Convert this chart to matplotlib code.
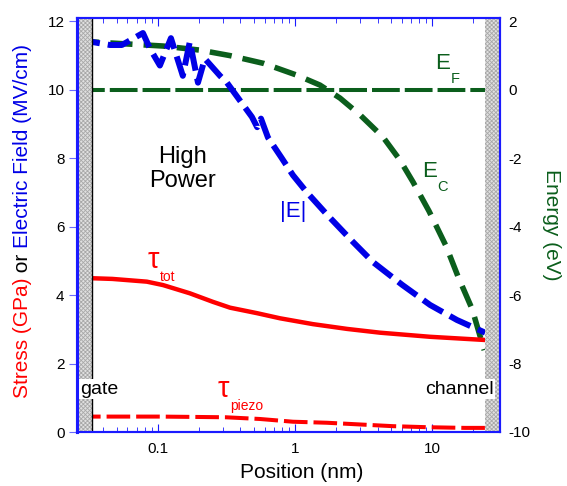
import numpy as np
import matplotlib
matplotlib.use("Agg")
import matplotlib.pyplot as plt

plt.rcParams["font.family"] = ["Liberation Sans", "DejaVu Sans"]
plt.rcParams["lines.scale_dashes"] = False
plt.rcParams["axes.unicode_minus"] = False

# --- data (position in nm) ---
ef_x = [0.0257, 24.4]
ef_y = [0.0, 0.0]  # eV

ec_x = [0.0257, 0.033, 0.109, 0.203, 0.336, 0.594, 1.03, 1.52, 2.13, 3.0, 4.39, 5.83, 7.26,
        9.5, 12.65, 15.5, 19.6, 24.0]
ec_y = [1.40, 1.39, 1.27, 1.15, 0.99, 0.76, 0.42, 0.13, -0.25, -0.75, -1.39, -2.06, -2.70,
        -3.55, -4.57, -5.47, -6.41, -7.61]  # eV

efield_x = [0.0257, 0.033, 0.0447, 0.0546, 0.0778, 0.0874, 0.1034, 0.1245, 0.152, 0.171, 0.196,
            0.220, 0.284, 0.319, 0.410, 0.485, 0.53, 0.565, 0.635, 0.80, 0.966, 1.22, 1.71,
            2.65, 3.71, 6.04, 9.67, 15.2, 24.4]
efield_y = [11.40, 11.39, 11.3, 11.3, 11.65, 11.2, 10.7, 11.5, 10.4, 11.4, 10.2,
            10.9, 10.4, 10.2, 9.6, 9.2, 8.9, 9.15, 8.6, 8.0, 7.5, 7.0, 6.35,
            5.55, 4.96, 4.3, 3.71, 3.27, 2.9]  # MV/cm

tot_x = [0.0257, 0.033, 0.0465, 0.083, 0.109, 0.171, 0.252, 0.336, 0.528, 0.778, 1.35, 2.4,
         4.17, 9.67, 23.5]
tot_y = [4.50, 4.49, 4.47, 4.39, 4.29, 4.05, 3.80, 3.63, 3.47, 3.32, 3.15, 3.01,
         2.90, 2.78, 2.69]  # GPa

piezo_x = [0.0257, 0.043, 0.103, 0.186, 0.313, 0.555, 0.966, 1.71, 2.98, 5.2, 9.2, 17.4, 24.4]
piezo_y = [0.45, 0.45, 0.45, 0.44, 0.43, 0.38, 0.30, 0.27, 0.22, 0.17, 0.14, 0.12, 0.12]  # GPa

left_ticks = [0, 2, 4, 6, 8, 10, 12]
right_ticks = [-10, -8, -6, -4, -2, 0, 2]
x_ticks = [0.1, 1, 10]
x_ticklabels = ["0.1", "1", "10"]

blue = "#0000e6"
green = "#0b5e1c"
red = "#ff0000"
spine_blue = "#1a1aff"
E_SHIFT = 10.0  # right axis (eV) = left axis - 10

fig = plt.figure(figsize=(5.67, 4.86), dpi=100)
ax = fig.add_axes([77 / 567, 1 - 432 / 486, 423 / 567, (432 - 17.6) / 486])
ax.set_xscale("log")
ax.set_xlim(0.0257, 31.3)
ax.set_ylim(0, 12.1)

ax2 = ax.twinx()
ax2.set_ylim(-10, 2.1)

# all curves on the left axis; energies shifted onto it
ax.plot(ef_x, np.array(ef_y) + E_SHIFT, color=green, lw=2.9, dashes=(20, 3.6), zorder=2)
ax.plot(ec_x, np.array(ec_y) + E_SHIFT, color=green, lw=4, dashes=(16, 8), zorder=2)
ax.plot(efield_x, efield_y, color=blue, lw=4.3, dashes=(16.5, 5.8), zorder=2)
ax.plot(tot_x, tot_y, color=red, lw=3.2, zorder=2)
ax.plot(piezo_x, piezo_y, color=red, lw=2.9, dashes=(17, 4.3), zorder=2)

# gate / channel regions
plt.rcParams["hatch.linewidth"] = 0.6
for a, b in [(0.0257, 0.033), (24.4, 31.3)]:
    ax.axvspan(a, b, facecolor="#e0e0e0", edgecolor="#a8a8a8", hatch="xxxxxxxx", lw=0, zorder=3)
ax.axvline(0.033, color="black", lw=1, zorder=4)

# ticks and spines
ax.set_xticks(x_ticks)
ax.set_xticklabels(x_ticklabels)
ax.tick_params(axis="x", which="both", direction="in", top=True, colors=spine_blue,
               labelcolor="black", labelsize=11, pad=7)
ax.tick_params(axis="x", which="major", length=6)
ax.tick_params(axis="x", which="minor", length=3.5)
ax.set_yticks(left_ticks)
ax.set_yticks(np.arange(1, 12, 2), minor=True)
ax.tick_params(axis="y", which="major", direction="out", length=6, colors="#6a6aff",
               labelcolor="black", labelsize=11, pad=3)
ax.tick_params(axis="y", which="minor", direction="in", length=3, colors=spine_blue)
ax2.set_yticks(right_ticks)
ax2.tick_params(axis="y", length=0, labelsize=11, pad=6, labelcolor="black")
for a in (ax, ax2):
    for s in a.spines.values():
        s.set_color(spine_blue)
        s.set_linewidth(1.5)
    a.spines["left"].set_linewidth(2.2)

ax.set_xlabel("Position (nm)", fontsize=15)
ax.xaxis.set_label_coords(0.532, -0.075)
ax2.set_ylabel("Energy (eV)", fontsize=15, color=green, rotation=270, labelpad=22)

# annotations
ax.text(0.25, 0.635, "High\nPower", fontsize=17, ha="center", va="center",
        transform=ax.transAxes, linespacing=1.15)
ax.text(0.0272, 1.25, "gate", fontsize=14, ha="left", va="center", zorder=6,
        bbox=dict(facecolor="white", edgecolor="none", pad=1))
ax.text(28.3, 1.25, "channel", fontsize=14, ha="right", va="center", zorder=6,
        bbox=dict(facecolor="white", edgecolor="none", pad=1))


def sub_label(x, y, main, sub, color, size, subsize, dy):
    t = ax.text(x, y, main, fontsize=size, color=color, ha="left", va="baseline")
    ax.annotate(sub, xy=(1, 0), xycoords=t, xytext=(0.5, dy), textcoords="offset points",
                fontsize=subsize, color=color, ha="left", va="top")


sub_label(10.5, 10.6, "E", "F", green, 16, 10.5, 1.5)
sub_label(8.45, 7.45, "E", "C", green, 16, 10.5, 1.5)
ax.text(0.967, 6.45, "|E|", fontsize=16, color=blue, ha="center", va="center")
sub_label(0.0845, 4.79, "\u03c4", "tot", red, 21, 10, 3.0)
sub_label(0.274, 1.02, "\u03c4", "piezo", red, 21, 10, 3.0)

# multi-coloured left axis label, stacked bottom to top
fig.canvas.draw()
renderer = fig.canvas.get_renderer()
pieces = [("Stress (GPa)", red), (" or ", "black"), ("Electric Field (MV/cm)", blue)]
texts = []
for s, c in pieces:
    t = fig.text(23 / 567, 0.1, s, color=c, fontsize=15, rotation=90, ha="center", va="bottom")
    texts.append(t)
total = sum(t.get_window_extent(renderer).height for t in texts) / fig.bbox.height
ybottom = (1 - 221 / 486) - total / 2
for t in texts:
    t.set_y(ybottom)
    ybottom += t.get_window_extent(renderer).height / fig.bbox.height

fig.savefig("out.png", dpi=100)
